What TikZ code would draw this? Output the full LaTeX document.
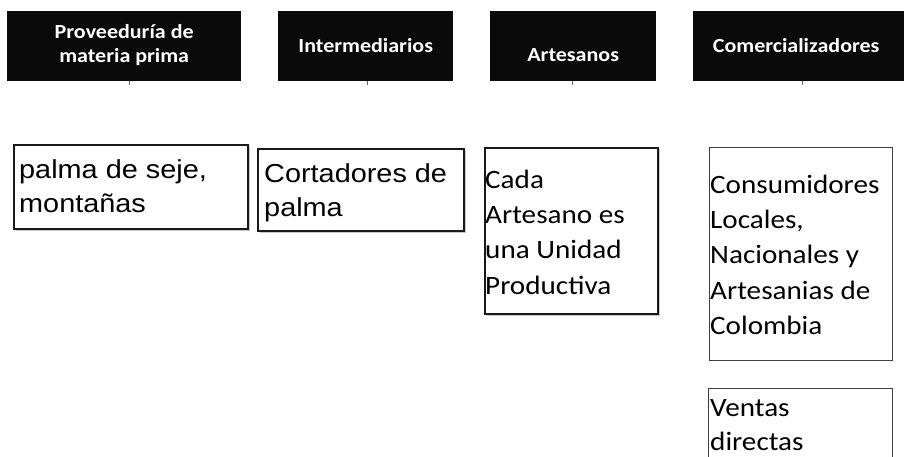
\documentclass[tikz,border=0pt]{standalone}
\usepackage{fontspec}
\usetikzlibrary{shadows}
\newfontfamily\hdfont[FakeStretch=1.1]{Carlito}
\newfontfamily\calfont[FakeStretch=1.1]{Carlito}
\newfontfamily\arfont[FakeStretch=1.11]{Liberation Sans}
\newcommand\topgap[1]{\rule{0pt}{#1pt}}
\begin{document}
\begin{tikzpicture}[x=1pt,y=-1pt,
  hdbox/.style={fill=black!96, draw=none, inner sep=0, anchor=north west},
  hdtext/.style={text=white, font=\hdfont\bfseries\fontsize{20}{23.5}\selectfont, align=center, inner sep=0},
  thickbox/.style={draw=black!90, line width=2pt, inner sep=0, anchor=north west, fill=white,
     drop shadow={shadow xshift=1.5pt, shadow yshift=-1.5pt, opacity=0.35, fill=black!60}},
  thinbox/.style={draw=black!75, line width=1.1pt, inner sep=0, anchor=north west, fill=white},
  artext/.style={font=\arfont\fontsize{26}{34}\selectfont, align=left, inner sep=0, anchor=north west},
  caltext/.style={font=\calfont\fontsize{26.5}{35.3}\selectfont, align=left, inner sep=0, anchor=north west},
  tick/.style={draw=black!60, line width=0.8pt}]
\clip (0,0) rectangle (904,457);
\fill[white] (0,0) rectangle (904,457);
% headers
\node[hdbox, minimum width=234pt, minimum height=70pt] (h1) at (7,11) {};
\node[hdbox, minimum width=175pt, minimum height=70pt] (h2) at (278,11) {};
\node[hdbox, minimum width=166pt, minimum height=70pt] (h3) at (490,11) {};
\node[hdbox, minimum width=214pt, minimum height=70pt] (h4) at (693,11) {};
\node[hdtext] (l1) at ([yshift=1pt]h1.center) {Proveeduría de\\materia prima};
\node[hdtext] (l2) at ([yshift=1pt]h2.center) {Intermediarios};
\node[hdtext] (l3) at ([yshift=-9pt]h3.center) {Artesanos};
\node[hdtext] (l4) at ([xshift=-4pt,yshift=1pt]h4.center) {Comercializadores};
% ticks
\coordinate (k1) at (129,85); \coordinate (k1a) at (129,81);
\coordinate (k2) at (367,85); \coordinate (k2a) at (367,81);
\coordinate (k3) at (572,85); \coordinate (k3a) at (572,81);
\coordinate (k4) at (802,85); \coordinate (k4a) at (802,81);
\draw[tick] (k1a) -- (k1);
\draw[tick] (k2a) -- (k2);
\draw[tick] (k3a) -- (k3);
\draw[tick] (k4a) -- (k4);
% content boxes
\node[thickbox, minimum width=234pt, minimum height=84pt] (b1) at (13,144) {};
\node[thickbox, minimum width=206pt, minimum height=82pt] (b2) at (257,148) {};
\node[thickbox, minimum width=173pt, minimum height=166pt] (b3) at (484,147) {};
\node[thinbox, minimum width=183pt, minimum height=213pt] (b4) at (709,147) {};
\node[thinbox, minimum width=184pt, minimum height=90pt] (b5) at (708,388) {};
% texts
\node[artext] (t1) at ([xshift=6pt]b1.north west) {\topgap{34}palma de seje,\\montañas};
\node[artext] (t2) at ([xshift=7pt]b2.north west) {\topgap{34}Cortadores de\\palma};
\node[caltext] (t3) at ([xshift=1pt]b3.north west) {\topgap{41}Cada\\Artesano es\\una Unidad\\Productiva};
\node[caltext] (t4) at ([xshift=1pt]b4.north west) {\topgap{46}Consumidores\\Locales,\\Nacionales y\\Artesanias de\\Colombia};
\node[caltext, font=\calfont\fontsize{26.5}{34}\selectfont] (t5) at ([xshift=2pt]b5.north west) {\topgap{28}Ventas\\directas};
\end{tikzpicture}
\end{document}
